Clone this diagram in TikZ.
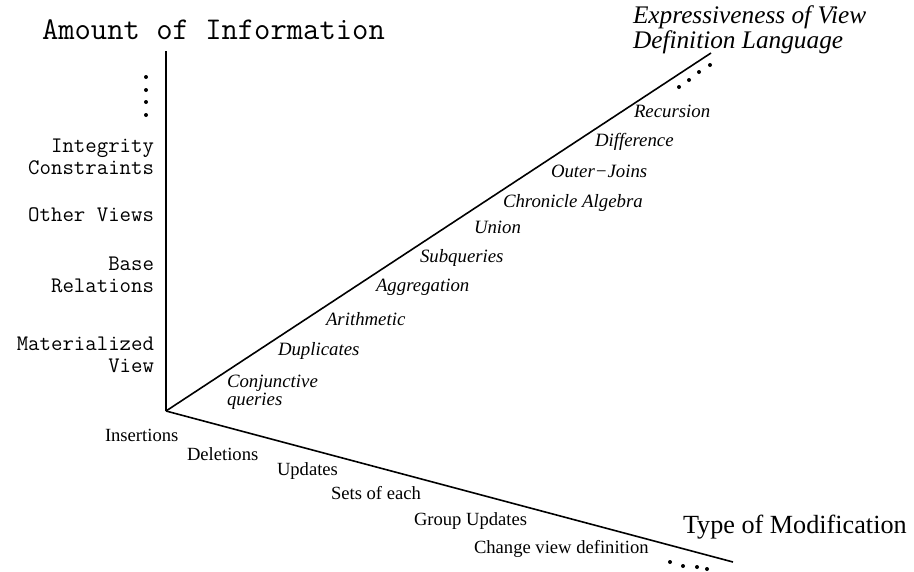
\documentclass[tikz,border=0pt]{standalone}
\usepackage{fontspec}
\setmainfont{Liberation Serif}
\usetikzlibrary{positioning}
\tikzset{
  viewspacepic/.style={
    x=1pt,y=-1pt
    ,inner sep=0pt
    ,outer sep=0pt
    ,line width=1.6pt
  }
  ,axistitle/.style={anchor=base west,font=\fontsize{31.7}{34}\selectfont\ttfamily}
  ,infolevel/.style={anchor=base east,align=right
    ,font=\fontsize{22.2}{22}\selectfont\ttfamily}
  ,exprlevel/.style={anchor=base west,align=left
    ,font=\fontsize{18.8}{17.5}\selectfont\itshape}
  ,exprtitle/.style={anchor=base west,align=left
    ,font=\fontsize{25.3}{25}\selectfont\itshape}
  ,modlevel/.style={anchor=base west,font=\fontsize{18.6}{20}\selectfont}
  ,modtitle/.style={anchor=base west,font=\fontsize{26.2}{28}\selectfont}
  ,moredots/.style={fill=black}
}

\begin{document}
\begin{tikzpicture}[viewspacepic]
  \useasboundingbox (0,0) rectangle (914,571);
  % the three axes
  \coordinate (origin) at (166,411);
  \coordinate (infotop) at (166,51);
  \coordinate (exprend) at (711,53);
  \coordinate (modend) at (733,562);
  \draw (origin) -- (infotop);
  \draw (origin) -- (exprend);
  \draw (origin) -- (modend);
  % amount of information
  \node[axistitle] (infotitle) at (42,39) {Amount of Information};
  \node[infolevel] (matview) at (154,372) {Materialized\\View};
  \node[infolevel] (baserel) at (154,292) {Base\\Relations};
  \node[infolevel] (otherviews) at (154,221) {Other Views};
  \node[infolevel] (integrity) at (154,174) {Integrity\\Constraints};
  \foreach \dy in {77,90,102,115}
    \fill[moredots] (146,\dy) circle (2pt);
  % expressiveness of view definition language
  \node[exprtitle] (exprtitle) at (633,48) {Expressiveness of View\\Definition Language};
  \node[exprlevel] (conjq) at (227,405) {Conjunctive\\queries};
  \node[exprlevel] (dupl) at (278,355) {Duplicates};
  \node[exprlevel] (arith) at (326,325) {Arithmetic};
  \node[exprlevel] (aggr) at (376,291) {Aggregation};
  \node[exprlevel] (subq) at (420,262) {Subqueries};
  \node[exprlevel] (union) at (474,233) {Union};
  \node[exprlevel] (chron) at (503,207) {Chronicle Algebra};
  \node[exprlevel] (outerj) at (551,177) {Outer−Joins};
  \node[exprlevel] (diff) at (595,146) {Difference};
  \node[exprlevel] (recur) at (634,117) {Recursion};
  \foreach \dx/\dy in {679/87,689/80,699/72,710/65}
    \fill[moredots] (\dx,\dy) circle (2pt);
  % type of modification
  \node[modtitle] (modtitle) at (683,533) {Type of Modification};
  \node[modlevel] (ins) at (105,441) {Insertions};
  \node[modlevel] (del) at (187,460) {Deletions};
  \node[modlevel] (upd) at (277,475) {Updates};
  \node[modlevel] (sets) at (331,499) {Sets of each};
  \node[modlevel] (grpupd) at (414,525) {Group Updates};
  \node[modlevel] (chgdef) at (474,553) {Change view definition};
  \foreach \dx/\dy in {670/562,683/566,697/567,707/569}
    \fill[moredots] (\dx,\dy) circle (2pt);
\end{tikzpicture}
\end{document}
